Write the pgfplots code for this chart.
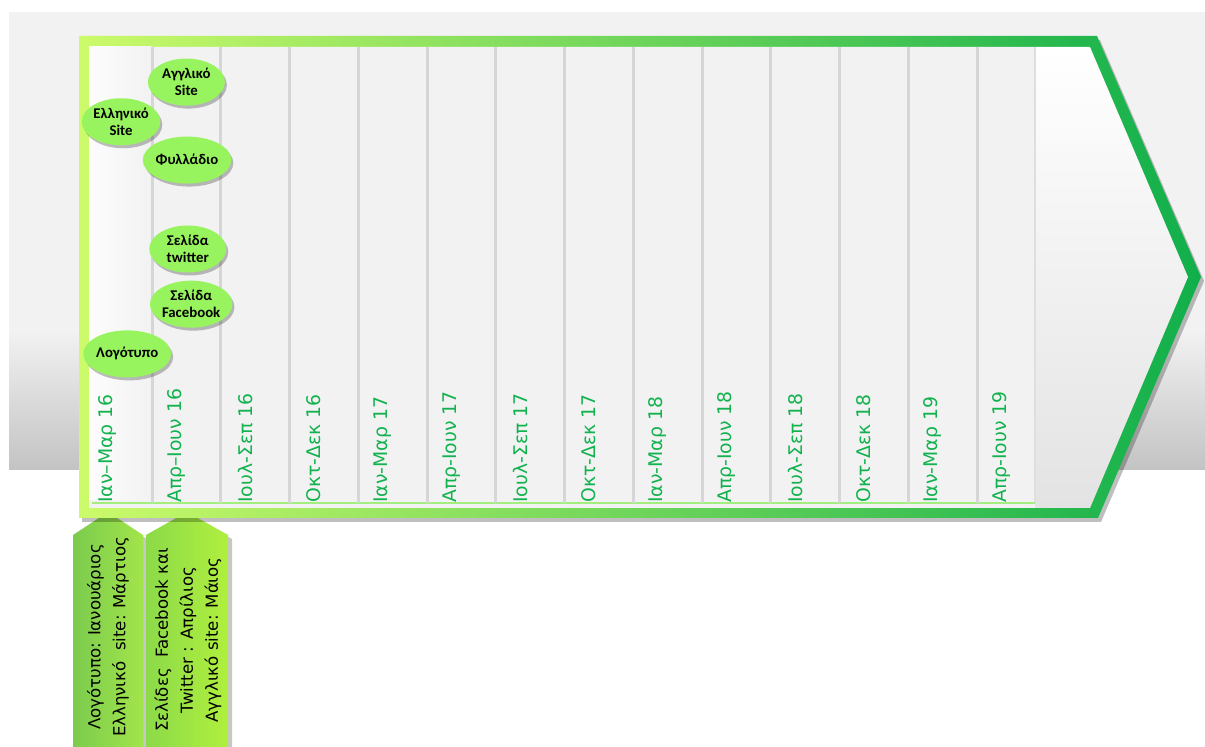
\documentclass[border=0pt]{standalone}
\usepackage{fontspec}
\setmainfont{Carlito}
\newfontfamily\tickfont{DejaVu Sans}
\usepackage{pgfplots}
\pgfplotsset{compat=1.18}
\usetikzlibrary{shapes.geometric,shadows}
\definecolor{bgg}{HTML}{F2F2F2}
\definecolor{bgdark}{HTML}{C3C3C3}
\definecolor{bordL}{HTML}{CCFA6A}
\definecolor{bordR}{HTML}{10AF4B}
\definecolor{tickgreen}{HTML}{12B24E}
\definecolor{bubble}{HTML}{98F45E}
\definecolor{callAL}{HTML}{7BCB4E}
\definecolor{callAR}{HTML}{A2E54A}
\definecolor{callBL}{HTML}{8CDA49}
\definecolor{callBR}{HTML}{B0EF3E}
\definecolor{gridc}{HTML}{D6D6D6}
\definecolor{axisg}{HTML}{A2EE7E}
\begin{document}
\begin{tikzpicture}
% ---------- decoration layer (pixel coordinates) ----------
\begin{axis}[at={(0,0)}, anchor=south west, scale only axis,
  width=602.5pt, height=373.5pt,
  xmin=0, xmax=1205, ymin=0, ymax=747, y dir=reverse,
  hide axis, clip=false]
\fill[white] (0,0) rectangle (1205,747);
% grey background band
\fill[bgg] (9,12) rectangle (1205,331);
\shade[top color=bgg, bottom color=bgdark] (9,330) rectangle (1205,470);
% bottom callouts
\fill[black, opacity=0.22] (76,747) -- (76,539) -- (111,516) -- (147,539) -- (147,747) -- cycle;
\fill[black, opacity=0.22] (149,747) -- (149,539) -- (190,516) -- (232,539) -- (232,747) -- cycle;
\shade[left color=callAL, right color=callAR] (73,747) -- (73,535) -- (108,512) -- (143,535) -- (143,747) -- cycle;
\shade[left color=callBL, right color=callBR] (146,747) -- (146,535) -- (187,512) -- (228,535) -- (228,747) -- cycle;
% arrow shadow
\fill[black, opacity=0.25] (82,40) -- (1100,40) -- (1204,281) -- (1101,522) -- (82,522) -- cycle;
% arrow border (gradient) and inner fill
\shade[left color=bordL, right color=bordR] (79,36) -- (1097,36) -- (1201,277) -- (1098,518) -- (79,518) -- cycle;
\shade[top color=white, bottom color=black!11] (89,47) -- (1090,47) -- (1188,277) -- (1090,508) -- (89,508) -- cycle;
% column area
\fill[bgg] (89,47) rectangle (1035,508);
\shade[left color=black!1, right color=bgg] (89,47) rectangle (152,500);
\draw[black!13, line width=0.6pt] (1035,47) -- (1035,503);
\draw[axisg, line width=1pt] (92,503) -- (1035,503);
% callout texts
\node[rotate=90, align=center, font=\tickfont\fontsize{8.3}{12.5}\selectfont] at (108,637)
  {Λογότυπο: Ιανουάριος\\Ελληνικό\ \ site: Μάρτιος};
\node[rotate=90, align=center, font=\tickfont\fontsize{8.3}{12.5}\selectfont] at (188,640)
  {Σελίδες\ \ Facebook και\\Twitter : Απρίλιος\\Αγγλικό site: Μάιος};
\end{axis}
% ---------- data layer ----------
\begin{axis}[at={(41.625pt,122pt)}, anchor=south west, scale only axis,
  width=475.75pt, height=228pt,
  xmin=-0.5, xmax=13.34, ymin=0, ymax=10,
  axis line style={draw=none}, ytick=\empty,
  major tick length=0pt, minor tick length=0pt,
  xtick={0,...,13},
  xticklabels={Ιαν–Μαρ 16, Απρ–Ιουν 16, Ιουλ-Σεπ 16, Οκτ-Δεκ 16, Ιαν-Μαρ 17, Απρ-Ιουν 17, Ιουλ-Σεπ 17, Οκτ-Δεκ 17, Ιαν-Μαρ 18, Απρ-Ιουν 18, Ιουλ-Σεπ 18, Οκτ-Δεκ 18, Ιαν-Μαρ 19, Απρ-Ιουν 19},
  xticklabel style={xshift=-5pt, rotate=90, anchor=west, inner sep=0pt,
    font=\tickfont\fontsize{9.4}{10}\selectfont, text=tickgreen},
  minor xtick={0.5,1.5,...,12.5}, xminorgrids,
  minor grid style={gridc, line width=1.5pt},
  clip=false]
\addplot[draw=none, mark=none, point meta=explicit symbolic,
  nodes near coords,
  every node near coord/.append style={anchor=center, ellipse, fill=bubble,
    minimum width=38.5pt, minimum height=23.5pt, inner sep=0pt, align=center,
    font=\bfseries\fontsize{7.4}{8.4}\selectfont, text=black,
    drop shadow={shadow xshift=1pt, shadow yshift=-1.5pt, fill=black, opacity=0.25}}]
coordinates {
  (1.00,9.23) [{Αγγλικό\\Site}]
  (0.05,8.36) [{Ελληνικό\\Site}]
  (1.01,7.52) [{Φυλλάδιο}]
  (1.02,5.57) [{Σελίδα\\twitter}]
  (1.07,4.36) [{Σελίδα\\Facebook}]
  (0.14,3.27) [{Λογότυπο}]
};
\end{axis}
\end{tikzpicture}
\end{document}
